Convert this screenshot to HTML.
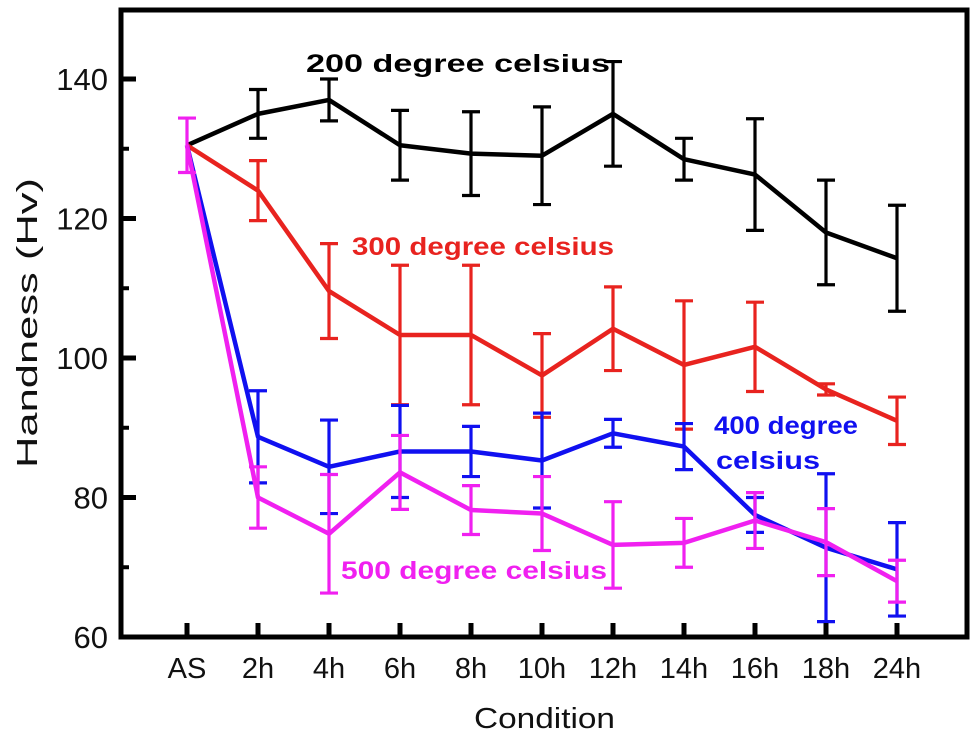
<!DOCTYPE html>
<html><head><meta charset="utf-8"><style>
body{margin:0;background:#fff}
svg text{font-family:"Liberation Sans",Arial,sans-serif}
</style></head><body>
<svg id="chart" width="975" height="740" viewBox="0 0 975 740" xmlns="http://www.w3.org/2000/svg">
</svg>
<script>
const categories=["AS","2h","4h","6h","8h","10h","12h","14h","16h","18h","24h"];
const yTicks=[60,80,100,120,140];
const yMinor=[70,90,110,130];
const s200=[130.5,135,137,130.5,129.3,129,135,128.5,126.3,118,114.3];
const e200=[0,3.5,3,5,6,7,7.5,3,8,7.5,7.6];
const s300=[130.5,124,109.6,103.3,103.3,97.5,104.2,99,101.6,95.5,91];
const e300=[0,4.3,6.8,10,10,6,6,9.2,6.4,0.8,3.4];
const s400=[130.5,88.7,84.4,86.6,86.6,85.3,89.2,87.3,77.5,72.8,69.7];
const e400=[0,6.6,6.7,6.6,3.6,6.8,2,3.3,2.5,10.6,6.7];
const s500=[130.5,80,74.8,83.6,78.2,77.7,73.2,73.5,76.7,73.6,68];
const e500=[3.9,4.4,8.5,5.3,3.5,5.3,6.2,3.5,4,4.8,3];
const NS="http://www.w3.org/2000/svg";
const svg=document.getElementById('chart');
const L=121,T=10,R=967,B=637;
const xs=i=>187+i*71;
const ys=v=>637-(v-60)*6.975;
function mk(t,a,p){const e=document.createElementNS(NS,t);for(const k in a)e.setAttribute(k,a[k]);(p||svg).appendChild(e);return e;}
function series(vals,errs,color,name){
  const g=mk('g',{});
  
  
  mk('polyline',{points:vals.map((v,i)=>xs(i)+','+ys(v)).join(' '),fill:'none',stroke:color,'stroke-width':4.5,'stroke-linejoin':'round'},g);
  vals.forEach((v,i)=>{if(!errs[i])return;const x=xs(i),y1=ys(v+errs[i]),y2=ys(v-errs[i]);
    const eb=mk('path',{d:`M${x},${y1}V${y2}M${x-9},${y1}H${x+9}M${x-9},${y2}H${x+9}`,stroke:color,'stroke-width':3.2,fill:'none'},g);
    
    });
}
series(s200,e200,'#000','200c');
series(s300,e300,'#e8231f','300c');
series(s400,e400,'#1010f0','400c');
series(s500,e500,'#f020f0','500c');
const fr=mk('rect',{x:L,y:T,width:R-L,height:B-T,fill:'none',stroke:'#000','stroke-width':5});


yMinor.forEach(v=>{mk('line',{x1:L,x2:L+8,y1:ys(v),y2:ys(v),stroke:'#000','stroke-width':4});});
yTicks.forEach(v=>{mk('line',{x1:L,x2:L+15,y1:ys(v),y2:ys(v),stroke:'#000','stroke-width':5});
  const t=mk('text',{x:L-13,y:ys(v)+11,'text-anchor':'end','font-size':31,fill:'#111'});t.textContent=v;
  
  });
categories.forEach((c,i)=>{mk('line',{x1:xs(i),x2:xs(i),y1:B,y2:B-14,stroke:'#000','stroke-width':5});
  const t=mk('text',{x:xs(i),y:678,'text-anchor':'middle','font-size':29,fill:'#111'});t.textContent=c;
  
  });
function lab(x,y,txt,col,name,w){const t=mk('text',{x:x-w/2,y:y,'font-size':25,'font-weight':'bold',fill:col,textLength:w,lengthAdjust:'spacingAndGlyphs'});t.textContent=txt;
  
  return t;}
lab(458,72,'200 degree celsius','#000','label-200c',304);
lab(483,255,'300 degree celsius','#e8231f','label-300c',262);
lab(786,434,'400 degree','#1010f0','label-400c',144);
lab(768,469,'celsius','#1010f0','label-400c-2',104);
lab(474,579,'500 degree celsius','#f020f0','label-500c',266);
const xt=mk('text',{x:474,y:728,'font-size':29,fill:'#111',textLength:141,lengthAdjust:'spacingAndGlyphs'});xt.textContent='Condition';


const yt=mk('text',{x:0,y:0,'font-size':29,fill:'#111',textLength:290,lengthAdjust:'spacingAndGlyphs',transform:'translate(37,468) rotate(-90)'});yt.textContent='Handness (Hv)';


</script>
</body></html>
